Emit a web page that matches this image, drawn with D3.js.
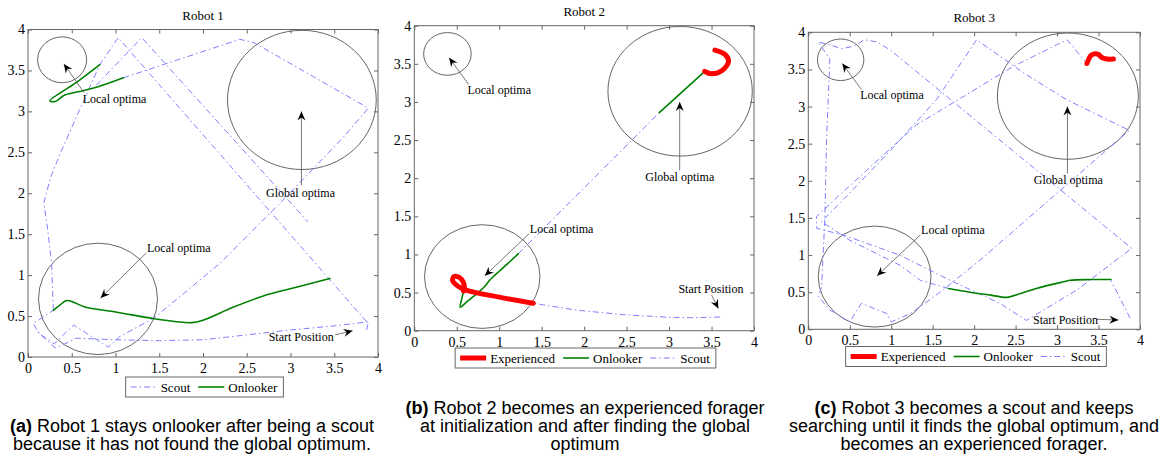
<!DOCTYPE html>
<html>
<head>
<meta charset="utf-8">
<script src="https://cdn.jsdelivr.net/npm/d3@7"></script>
<style>
body { margin: 0; background: #fff; }
svg { display: block; }
.axis .tick line { stroke: #666; }
.axis .domain { display: none; }
</style>
</head>
<body>
<div id="chart"></div>
<script>
const serifFont = "'Liberation Serif', 'Times New Roman', Times, 'DejaVu Serif', serif"
const sansFont = "'Liberation Sans', Arial, Helvetica, sans-serif"

const tickValues = [0, 0.5, 1, 1.5, 2, 2.5, 3, 3.5, 4]
const tickLabels = ["0", "0.5", "1", "1.5", "2", "2.5", "3", "3.5", "4"]

// [cx, cy, r] in field units, same three optima in every run
const optimaCircles = [[0.39, 3.63, 0.28], [3.13, 3.14, 0.85], [0.8, 0.71, 0.68]]

// text position, arrow tail, arrow head (field units)
const optimaNotes = [
    {text: "Local optima", tx: 0.625, ty: 3.1, ax: 0.64, ay: 3.23, hx: 0.41, hy: 3.58},
    {text: "Global optima", tx: 2.72, ty: 1.96, ax: 3.125, ay: 2.1, hx: 3.125, hy: 3.0},
    {text: "Local optima", tx: 1.36, ty: 1.28, ax: 1.35, ay: 1.27, hx: 0.83, hy: 0.72}
]
const startNotes = [
    {text: "Start Position", tx: 2.75, ty: 0.195, ax: 3.51, ay: 0.27, hx: 3.71, hy: 0.32},
    {text: "Start Position", tx: 3.11, ty: 0.5, ax: 3.5, ay: 0.47, hx: 3.58, hy: 0.29},
    {text: "Start Position", tx: 2.71, ty: 0.067, ax: 3.47, ay: 0.135, hx: 3.74, hy: 0.125}
]

// trajectories, null breaks a segment
const robot1Scout = [
    [3.87, 0.33], [3.89, 0.43], [3.5, 0.38], [3.0, 0.33], [2.5, 0.27], [2.0, 0.21], [1.5, 0.2], [1.0, 0.21],
    [0.55, 0.23], [0.42, 0.16], [0.31, 0.11], [0.12, 0.3], [0.06, 0.41], [0.29, 0.57], null,
    [0.29, 0.57], [0.27, 1.14], [0.22, 1.6], [0.18, 1.88], [0.26, 2.2], [0.37, 2.49], [0.59, 3.02],
    [0.82, 3.57], [1.03, 3.9], [3.87, 0.43], null,
    [0.78, 3.32], [1.3, 3.9], [3.2, 1.65], null,
    [1.09, 3.41], [2.42, 3.88], [2.58, 3.84], [3.89, 3.04], [3.6, 2.68], [2.9, 1.9], [2.2, 1.15],
    [1.74, 0.74], [1.43, 0.47], [1.05, 0.25], [0.92, 0.12], [0.52, 0.39], [0.3, 0.16], [0.15, 0.27], [0.1, 0.33]
]
const robot1Onlooker = [
    [0.82, 3.57], [0.55, 3.35], [0.25, 3.13], [0.31, 3.12], [0.42, 3.2], [0.62, 3.25], [0.8, 3.3], [1.09, 3.41], null,
    [0.29, 0.57], [0.36, 0.63], [0.44, 0.69], [0.52, 0.67], [0.65, 0.61], [1.0, 0.55], [1.43, 0.47],
    [1.7, 0.43], [1.87, 0.42], [2.0, 0.45], [2.35, 0.61], [2.73, 0.76], [3.1, 0.86], [3.45, 0.96]
]

const robot2Scout = [
    [3.6, 0.18], [3.3, 0.17], [3.01, 0.175], [2.46, 0.21], [1.91, 0.27], [1.4, 0.36], null,
    [1.225, 1.01], [2.885, 2.86]
]
const robot2Onlooker = [
    [0.58, 0.52], [0.56, 0.42], [0.54, 0.31], [0.62, 0.38], [0.74, 0.49], [0.82, 0.57], [0.89, 0.665],
    [1.0, 0.78], [1.1, 0.88], [1.225, 1.01], null,
    [2.885, 2.86], [3.42, 3.4]
]
const robot2Experienced = [
    [1.4, 0.36], [1.0, 0.44], [0.62, 0.53], [0.52, 0.58], [0.45, 0.66], [0.47, 0.71], [0.53, 0.7],
    [0.58, 0.63], [0.59, 0.56], [0.58, 0.52], null,
    [3.42, 3.4], [3.5, 3.37], [3.62, 3.41], [3.7, 3.53], [3.66, 3.62], [3.54, 3.68]
]

const robot3Scout = [
    [3.88, 0.15], [3.65, 0.66], null,
    [1.69, 0.55], [1.35, 0.66], [1.11, 0.86], [0.5, 1.2], [0.16, 1.45], [0.45, 1.78], [1.0, 2.42],
    [1.55, 3.1], [2.03, 3.9], [2.6, 3.45], [3.12, 3.09], [3.87, 2.68], [2.07, 0.93], [1.59, 0.5],
    [1.23, 0.21], [1.0, 0.1], [0.95, 0.21], [0.64, 0.35], [0.5, 0.1], [0.26, 0.26], [0.12, 0.44],
    [0.16, 0.57], [0.2, 1.5], [0.22, 2.55], [0.26, 3.64], [0.12, 3.87], [0.26, 3.83], [0.4, 3.78],
    [0.54, 3.81], [0.68, 3.9], [0.83, 3.87], [0.99, 3.76], [3.9, 1.09], [3.24, 0.53], [2.63, 0.12],
    [2.31, 0.35], [1.71, 0.66], [1.1, 1.0], [0.42, 1.27], [0.1, 1.36], [0.1, 1.52], [0.35, 1.78],
    [1.3, 2.75], [2.47, 3.54], [3.12, 3.9], [3.36, 3.58]
]
const robot3Onlooker = [
    [3.65, 0.67], [3.4, 0.67], [3.16, 0.66], [3.08, 0.64], [2.75, 0.55], [2.47, 0.45], [2.39, 0.43],
    [2.2, 0.46], [1.95, 0.5], [1.69, 0.55]
]
const robot3Experienced = [
    [3.36, 3.58], [3.41, 3.69], [3.46, 3.71], [3.5, 3.7], [3.54, 3.66], [3.6, 3.64], [3.68, 3.64]
]

const captionA = ["Robot 1 stays onlooker after being a scout", "because it has not found the global optimum."]
const captionB = ["Robot 2 becomes an experienced forager", "at initialization and after finding the global", "optimum"]
const captionC = ["Robot 3 becomes a scout and keeps", "searching until it finds the global optimum, and", "becomes an experienced forager."]

const roleStyle = {
    scout: {stroke: "#7f7fff", width: 1, dash: "6,3,1.5,3", curve: d3.curveLinear, label: "Scout"},
    onlooker: {stroke: "#008000", width: 1.6, dash: null, curve: d3.curveCatmullRom, label: "Onlooker"},
    experienced: {stroke: "#ff0000", width: 5, dash: null, curve: d3.curveCatmullRom, label: "Experienced"}
}

const panels = [
    {title: "Robot 1", frame: {left: 28, right: 378, top: 29.5, bottom: 357},
     paths: {scout: robot1Scout, onlooker: robot1Onlooker},
     start: startNotes[0], legendRoles: ["scout", "onlooker"], legendCenter: [204.5, 387],
     caption: {label: "(a)", lines: captionA, x: 192, y: 432}},
    {title: "Robot 2", frame: {left: 414.3, right: 754, top: 25.7, bottom: 330.7},
     paths: {scout: robot2Scout, onlooker: robot2Onlooker, experienced: robot2Experienced},
     start: startNotes[1], legendRoles: ["experienced", "onlooker", "scout"], legendCenter: [585.5, 358],
     caption: {label: "(b)", lines: captionB, x: 585, y: 414}},
    {title: "Robot 3", frame: {left: 808.3, right: 1140, top: 32.3, bottom: 329.3},
     paths: {scout: robot3Scout, onlooker: robot3Onlooker, experienced: robot3Experienced},
     start: startNotes[2], legendRoles: ["experienced", "onlooker", "scout"], legendCenter: [976, 356.5],
     caption: {label: "(c)", lines: captionC, x: 974, y: 414}}
]

const svg = d3.select("#chart").append("svg")
    .attr("width", 1168)
    .attr("height", 461)

svg.append("defs").append("marker")
    .attr("id", "head")
    .attr("viewBox", "-10 -5 12 10")
    .attr("refX", 0)
    .attr("refY", 0)
    .attr("markerWidth", 12)
    .attr("markerHeight", 10)
    .attr("markerUnits", "userSpaceOnUse")
    .attr("orient", "auto")
    .append("path")
    .attr("d", "M0,0 L-9,-4 L-6,0 L-9,4 Z")
    .attr("fill", "#000")

panels.forEach(panel => {
    const f = panel.frame
    const x = d3.scaleLinear().domain([0, 4]).range([f.left, f.right])
    const y = d3.scaleLinear().domain([0, 4]).range([f.bottom, f.top])
    const g = svg.append("g").attr("class", "panel")

    // axes with inward ticks on all four sides
    const fmt = (d, i) => tickLabels[i]
    const styleAxis = sel => sel
        .attr("font-family", serifFont)
        .attr("font-size", 14)
        .call(s => s.selectAll(".tick text").attr("fill", "#000"))
    g.append("g").attr("class", "axis")
        .attr("transform", `translate(0, ${f.bottom})`)
        .call(d3.axisBottom(x).tickValues(tickValues).tickFormat(fmt).tickSizeInner(-4).tickSizeOuter(0).tickPadding(6))
        .call(styleAxis)
    g.append("g").attr("class", "axis")
        .attr("transform", `translate(${f.left}, 0)`)
        .call(d3.axisLeft(y).tickValues(tickValues).tickFormat(fmt).tickSizeInner(-4).tickSizeOuter(0).tickPadding(3))
        .call(styleAxis)
    g.append("g").attr("class", "axis")
        .attr("transform", `translate(0, ${f.top})`)
        .call(d3.axisTop(x).tickValues(tickValues).tickFormat("").tickSizeInner(-4).tickSizeOuter(0))
    g.append("g").attr("class", "axis")
        .attr("transform", `translate(${f.right}, 0)`)
        .call(d3.axisRight(y).tickValues(tickValues).tickFormat("").tickSizeInner(-4).tickSizeOuter(0))

    g.append("rect")
        .attr("x", f.left).attr("y", f.top)
        .attr("width", f.right - f.left).attr("height", f.bottom - f.top)
        .attr("fill", "none").attr("stroke", "#666").attr("stroke-width", 1)

    g.append("text")
        .attr("x", (f.left + f.right) / 2).attr("y", f.top - 10)
        .attr("text-anchor", "middle")
        .attr("font-family", serifFont).attr("font-size", 13)
        .text(panel.title)

    g.selectAll(".optimum").data(optimaCircles).enter().append("ellipse")
        .attr("class", "optimum")
        .attr("cx", d => x(d[0])).attr("cy", d => y(d[1]))
        .attr("rx", d => x(d[2]) - x(0)).attr("ry", d => y(0) - y(d[2]))
        .attr("fill", "none").attr("stroke", "#666").attr("stroke-width", 1)

    const line = d3.line().defined(d => d !== null).x(d => x(d[0])).y(d => y(d[1]))
    ;["scout", "onlooker", "experienced"].forEach(role => {
        const pts = panel.paths[role]
        if (!pts) return
        const st = roleStyle[role]
        g.append("path")
            .attr("d", line.curve(st.curve)(pts))
            .attr("fill", "none")
            .attr("stroke", st.stroke)
            .attr("stroke-width", st.width)
            .attr("stroke-dasharray", st.dash)
            .attr("stroke-linejoin", "round")
            .attr("stroke-linecap", role === "scout" ? "butt" : "round")
    })

    const notes = optimaNotes.concat([panel.start])
    notes.forEach(n => {
        g.append("line")
            .attr("x1", x(n.ax)).attr("y1", y(n.ay))
            .attr("x2", x(n.hx)).attr("y2", y(n.hy))
            .attr("stroke", "#555").attr("stroke-width", 0.8)
            .attr("marker-end", "url(#head)")
        g.append("text")
            .attr("x", x(n.tx)).attr("y", y(n.ty))
            .attr("font-family", serifFont).attr("font-size", 12)
            .text(n.text)
    })

    // legend
    const lg = g.append("g")
    let cursor = 5
    panel.legendRoles.forEach(role => {
        const st = roleStyle[role]
        const t = lg.append("text")
            .attr("font-family", serifFont).attr("font-size", 13)
            .attr("x", cursor + 30).attr("y", 4.5)
            .text(st.label)
        lg.append("line")
            .attr("x1", cursor).attr("x2", cursor + 26).attr("y1", 0).attr("y2", 0)
            .attr("stroke", st.stroke).attr("stroke-width", st.width)
            .attr("stroke-dasharray", st.dash)
        cursor += 30 + t.node().getComputedTextLength() + 8
    })
    const boxW = cursor - 2
    lg.insert("rect", ":first-child")
        .attr("x", 0).attr("y", -10).attr("width", boxW).attr("height", 20)
        .attr("fill", "#fff").attr("stroke", "#666").attr("stroke-width", 1)
    lg.attr("transform", `translate(${panel.legendCenter[0] - boxW / 2}, ${panel.legendCenter[1]})`)

    // caption under the panel
    const cap = panel.caption
    const ct = g.append("text")
        .attr("font-family", sansFont).attr("font-size", 18)
        .attr("text-anchor", "middle")
    cap.lines.forEach((ln, i) => {
        const ts = ct.append("tspan").attr("x", cap.x).attr("y", cap.y + i * 18)
        if (i === 0) {
            ts.append("tspan").attr("font-weight", "bold").text(cap.label)
            ts.append("tspan").text(" " + ln)
        } else {
            ts.text(ln)
        }
    })
})
</script>
</body>
</html>
